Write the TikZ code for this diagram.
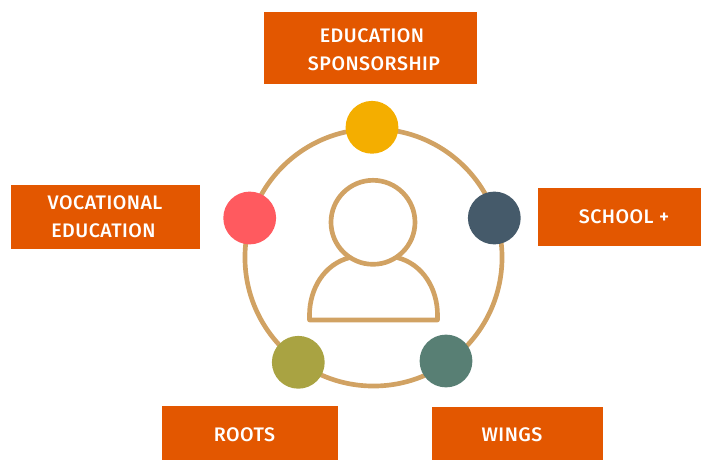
\documentclass[tikz,border=0pt]{standalone}
\usepackage{fontspec}
\setmainfont{Fira Sans}[BoldFont={Fira Sans Medium},LetterSpace=2.5]
\definecolor{box}{HTML}{E35700}
\definecolor{ring}{HTML}{D1A263}
\definecolor{cy}{HTML}{F4AE00}
\definecolor{cr}{HTML}{FF5A5F}
\definecolor{cn}{HTML}{455A6A}
\definecolor{co}{HTML}{A9A342}
\definecolor{ct}{HTML}{587F74}
\tikzset{
  px/.style={x=0.75pt,y=-0.75pt},
  boxrect/.style={fill=box,draw=none},
  lab/.style={text=white,font=\fontsize{14.7}{16}\selectfont\bfseries,inner sep=0pt,anchor=center},
  dot/.style={circle,minimum size=39.6pt,inner sep=0pt,draw=none},
  ln/.style={draw=ring,line width=3.5pt,line join=round,line cap=round}
}
\begin{document}
\begin{tikzpicture}[px]
\useasboundingbox (0,0) rectangle (701,460);
\fill[boxrect] (264,12) rectangle (477,84);
\fill[boxrect] (11,185) rectangle (200,249);
\fill[boxrect] (538,188) rectangle (701,246);
\fill[boxrect] (162,406) rectangle (338,460);
\fill[boxrect] (432,407) rectangle (603,460);
\node[lab] (t1) at (372,35.5) {EDUCATION};
\node[lab] (t2) at (374,63.5) {SPONSORSHIP};
\node[lab] (t3) at (105,203) {VOCATIONAL};
\node[lab] (t4) at (103.5,230.5) {EDUCATION};
\node[lab] (t5) at (624,216.5) {SCHOOL +};
\node[lab] (t6) at (244.5,435) {ROOTS};
\node[lab] (t7) at (512,435) {WINGS};
\draw[ln] (373.5,257.5) circle[radius=96.4pt];
\draw[ln] (373,222.3) circle[radius=31.5pt];
\draw[ln] (350,257.5) .. controls (324,264) and (309.5,289) .. (309.5,315) -- (309.5,320) -- (437.5,320) -- (437.5,315) .. controls (437.5,289) and (423,264) .. (397,257.5);
\node[dot,fill=cy] (d1) at (372,127.3) {};
\node[dot,fill=cr] (d2) at (249.7,218) {};
\node[dot,fill=cn] (d3) at (494.3,218) {};
\node[dot,fill=co] (d4) at (298.3,362.3) {};
\node[dot,fill=ct] (d5) at (446,361) {};
\end{tikzpicture}
\end{document}
